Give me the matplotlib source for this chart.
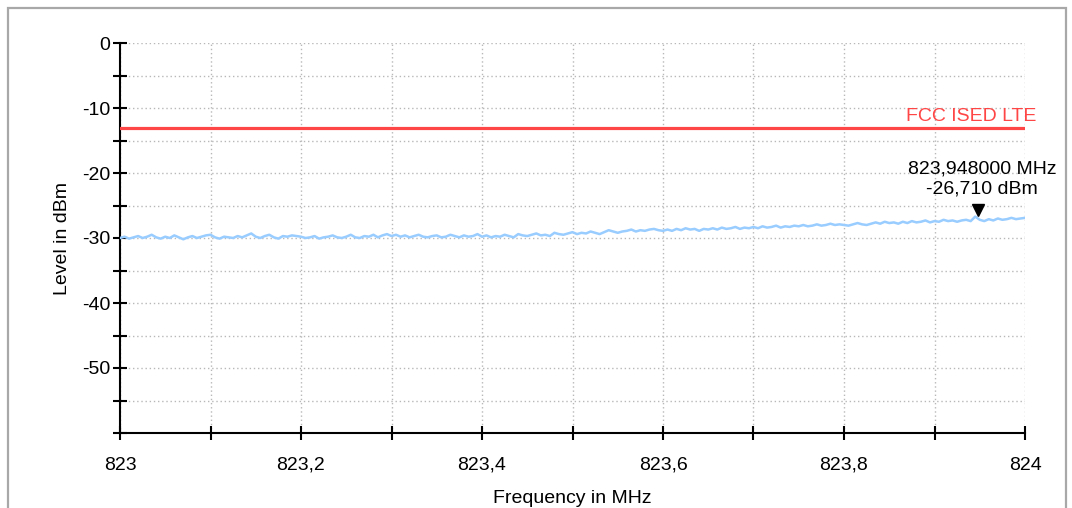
import numpy as np
import matplotlib
matplotlib.use("Agg")
import matplotlib.pyplot as plt
from matplotlib.ticker import MultipleLocator, FuncFormatter
from matplotlib.patches import Rectangle
import matplotlib.transforms as mtransforms

# ---------------- data ----------------
freq_start = 823.0
freq_stop = 824.0
trace_levels = [
    -30.0, -29.8, -30.1, -29.9, -29.7, -30.0, -29.8, -29.5, -29.9, -30.1,
    -29.8, -30.0, -29.6, -29.9, -30.2, -29.9, -29.7, -30.0, -29.8, -29.6,
    -29.5, -29.9, -30.1, -29.8, -29.9, -30.0, -29.7, -29.9, -29.6, -29.3,
    -29.8, -30.0, -29.7, -29.5, -29.9, -30.1, -29.7, -29.8, -29.6, -29.7,
    -29.8, -30.0, -29.9, -29.7, -30.1, -29.9, -29.8, -29.6, -29.9, -30.0,
    -29.8, -29.5, -29.9, -30.0, -29.7, -29.8, -29.5, -29.9, -29.6, -29.4,
    -29.7, -29.5, -29.8, -29.6, -29.9, -29.7, -29.5, -29.8, -29.9, -29.7,
    -29.6, -29.9, -29.8, -29.5, -29.7, -29.9, -29.6, -29.8, -29.7, -29.4,
    -29.8, -29.6, -29.9, -29.7, -29.8, -29.5, -29.7, -29.9, -29.4, -29.6,
    -29.7, -29.5, -29.3, -29.6, -29.5, -29.7, -29.2, -29.4, -29.5, -29.3,
    -29.1, -29.4, -29.2, -29.3, -29.0, -29.2, -29.4, -29.1, -28.8, -29.0,
    -29.2, -29.0, -28.9, -28.7, -29.0, -28.8, -28.9, -28.7, -28.6, -28.8,
    -28.9, -28.7, -28.9, -28.6, -28.8, -28.5, -28.7, -28.6, -28.9, -28.6,
    -28.7, -28.5, -28.7, -28.4, -28.6, -28.5, -28.3, -28.6, -28.4, -28.5,
    -28.3, -28.5, -28.2, -28.4, -28.3, -28.1, -28.4, -28.2, -28.3, -28.1,
    -28.2, -28.0, -28.2, -28.1, -27.9, -28.1, -28.0, -27.8, -28.0, -27.9,
    -28.0, -28.1, -27.9, -27.7, -27.9, -28.0, -27.8, -27.6, -27.8, -27.5,
    -27.7, -27.6, -27.8, -27.5, -27.7, -27.4, -27.6, -27.5, -27.3, -27.6,
    -27.4, -27.5, -27.2, -27.4, -27.3, -27.5, -27.3, -27.2, -27.4, -26.71,
    -27.2, -27.4, -27.1, -27.3, -27.0, -27.2, -27.1, -26.9, -27.1, -27.0,
    -26.9,
]
limit_name = "FCC ISED LTE"
limit_level = -13.0
marker_freq = 823.948
marker_level = -26.71
marker_label = ["823,948000 MHz", "-26,710 dBm"]
x_label = "Frequency in MHz"
y_label = "Level in dBm"
y_min, y_max = -60, 0

freqs = np.linspace(freq_start, freq_stop, len(trace_levels))

# ---------------- figure ----------------
plt.rcParams['font.family'] = ['Liberation Sans', 'DejaVu Sans']
fig = plt.figure(figsize=(10.72, 5.08), dpi=100)
fig.patch.set_facecolor('white')

# outer gray frame
fig.patches.append(Rectangle((8 / 1072, -0.05), (1066 - 8) / 1072, 1.05 - 8 / 508,
                             transform=fig.transFigure, fill=False,
                             edgecolor='#a8a8a8', linewidth=1.6))

ax = fig.add_axes([120 / 1072, 1 - 433 / 508, (1025 - 120) / 1072, (433 - 43) / 508])
ax.set_xlim(freq_start, freq_stop)
ax.set_ylim(y_min, y_max)

for s in ['top', 'right']:
    ax.spines[s].set_visible(False)
for s in ['left', 'bottom']:
    ax.spines[s].set_linewidth(1.5)
    ax.spines[s].set_color('black')

ax.xaxis.set_major_locator(MultipleLocator(0.1))
ax.yaxis.set_major_locator(MultipleLocator(5))


def xfmt(v, pos):
    k = int(round((v - freq_start) * 10))
    if k % 2:
        return ''
    s = f"{v:.1f}".replace('.', ',')
    if s.endswith(',0'):
        s = s[:-2]
    return s


def yfmt(v, pos):
    k = int(round(v))
    if k % 10 or k <= y_min:
        return ''
    return f"{k}"


ax.xaxis.set_major_formatter(FuncFormatter(xfmt))
ax.yaxis.set_major_formatter(FuncFormatter(yfmt))
ax.tick_params(axis='both', direction='inout', length=10, width=1.5, colors='black',
               labelsize=14)
ax.tick_params(axis='y', pad=2)
ax.tick_params(axis='x', pad=12)

ax.grid(True, which='major', linestyle=(0, (1, 2)), color='#b8b8b8', linewidth=1.0)
ax.set_axisbelow(True)

ax.set_xlabel(x_label, fontsize=14, labelpad=12)
ax.set_ylabel(y_label, fontsize=14, labelpad=8)

# trace
ax.plot(freqs, trace_levels, color='#99ccff', linewidth=1.8, zorder=3)

# limit line
ax.axhline(limit_level, color='#ff4646', linewidth=2.3, zorder=4)
ax.annotate(limit_name, xy=(1.0, limit_level), xycoords=('axes fraction', 'data'),
            xytext=(8, 2), textcoords='offset points', ha='right', va='bottom',
            color='#ff4646', fontsize=14)

# marker
offset = mtransforms.offset_copy(ax.transData, fig=fig, x=0, y=5, units='points')
ax.plot([marker_freq], [marker_level], marker='v', color='black', markersize=9,
        linestyle='none', transform=offset, zorder=5, clip_on=False)
ax.annotate("\n".join(marker_label), xy=(marker_freq, marker_level), xycoords='data',
            xytext=(3, 14), textcoords='offset points', ha='center', va='bottom',
            fontsize=14, linespacing=1.2, multialignment='center')

fig.savefig("out.png", dpi=100)
